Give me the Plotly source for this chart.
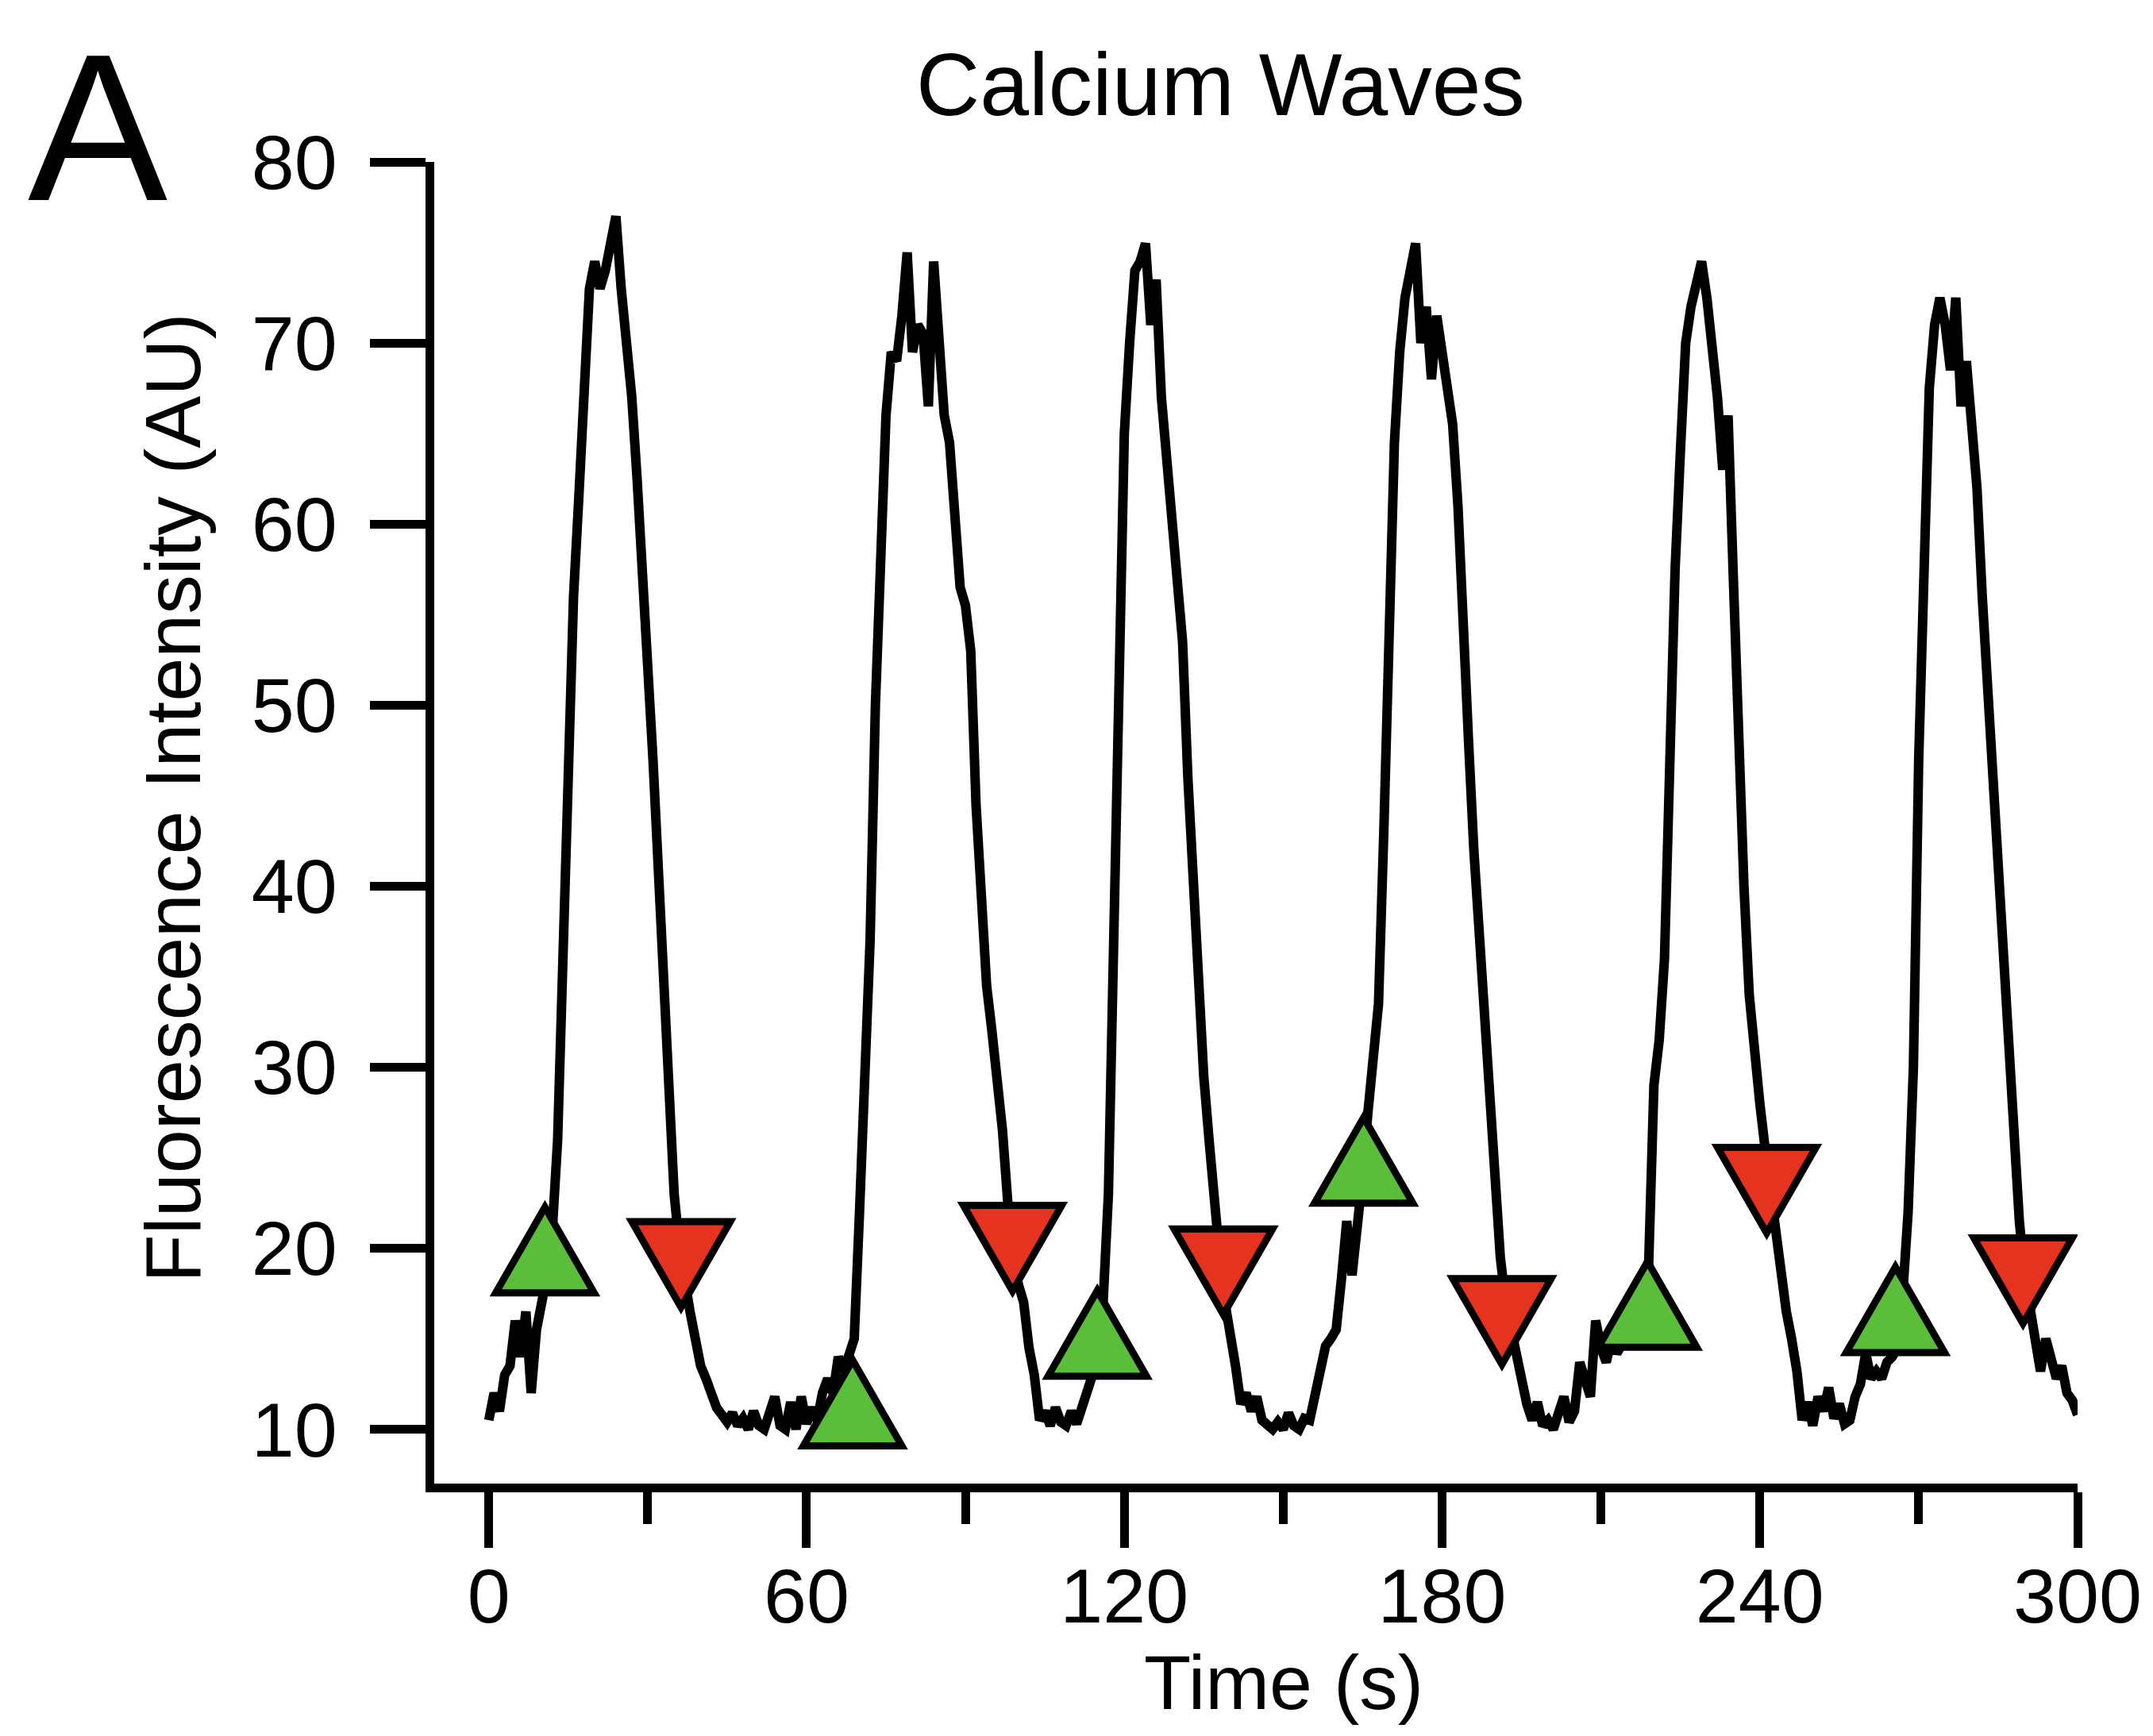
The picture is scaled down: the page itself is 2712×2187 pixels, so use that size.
import plotly.graph_objects as go

# ---------------- data ----------------
time_s = list(range(301))  # sampling times, 1 s apart

fluorescence = [
    10.5, 12.0, 11.0, 13.0, 13.5, 16.0, 14.0, 16.5, 12.0, 15.5,   # 0-9
    17.0, 18.5, 21.0, 26.0, 36.0, 47.5, 56.0, 61.5, 67.0, 73.0,   # 10-19
    74.5, 73.0, 74.0, 75.5, 77.0, 73.0, 70.5, 67.0, 62.5, 58.0,   # 20-29
    53.0, 47.0, 41.0, 35.0, 28.0, 23.0, 20.0, 18.0, 16.5, 15.0,   # 30-39
    13.5, 12.8, 11.8, 11.2, 10.8, 10.4, 10.9, 10.2, 10.6, 10.0,   # 40-49
    11.0, 10.2, 10.0, 10.8, 11.8, 10.2, 10.0, 11.5, 10.0, 11.8,   # 50-59
    10.3, 11.2, 10.5, 12.0, 12.8, 12.0, 14.0, 13.2, 14.2, 15.0,   # 60-69
    22.0, 29.0, 37.0, 50.0, 57.5, 66.0, 69.5, 69.0, 71.5, 75.0,   # 70-79
    69.5, 71.0, 70.5, 66.5, 74.5, 71.0, 66.0, 64.5, 61.0, 56.5,   # 80-89
    55.5, 53.0, 44.5, 39.0, 34.5, 32.0, 29.5, 26.5, 22.5, 19.5,   # 90-99
    18.0, 17.0, 14.5, 13.0, 10.5, 11.0, 10.2, 11.2, 10.4, 10.2,   # 100-109
    11.0, 10.3, 11.2, 12.3, 13.0, 13.8, 17.0, 23.0, 36.0, 54.0,   # 110-119
    65.0, 70.0, 74.0, 74.5, 75.5, 71.0, 73.5, 67.0, 63.5, 60.0,   # 120-129
    56.0, 53.5, 46.0, 40.0, 34.0, 29.5, 26.0, 22.0, 19.5, 17.0,   # 130-139
    15.5, 13.5, 11.4, 12.0, 11.0, 11.8, 10.5, 10.2, 10.0, 10.4,   # 140-149
    10.0, 10.9, 10.2, 10.0, 10.6, 10.5, 11.8, 13.5, 14.6, 15.0,   # 150-159
    15.5, 18.3, 21.5, 18.5, 21.0, 24.0, 27.5, 30.0, 33.5, 43.0,   # 160-169
    56.0, 64.5, 69.5, 72.5, 74.0, 75.5, 70.0, 72.0, 68.0, 71.5,   # 170-179
    69.5, 67.0, 65.5, 61.0, 55.5, 48.0, 42.0, 37.5, 31.0, 27.0,   # 180-189
    23.5, 19.5, 17.0, 15.5, 14.5, 12.5, 11.4, 10.5, 11.5, 10.2,   # 190-199
    10.5, 10.0, 10.8, 11.8, 10.4, 11.0, 13.7, 12.5, 11.8, 16.0,   # 200-209
    14.5, 13.7, 15.0, 14.2, 14.8, 15.2, 14.6, 15.5, 15.8, 19.0,   # 210-219
    29.0, 31.5, 36.0, 48.0, 57.5, 64.0, 70.0, 72.0, 73.5, 74.5,   # 220-229
    72.5, 70.0, 67.0, 63.0, 66.0, 57.0, 46.5, 40.0, 34.0, 30.5,   # 230-239
    28.0, 25.5, 23.0, 21.5, 18.5, 16.5, 15.0, 13.2, 10.5, 11.5,   # 240-249
    10.2, 11.8, 11.0, 12.3, 10.6, 11.4, 10.3, 10.5, 11.8, 12.5,   # 250-259
    14.2, 12.8, 13.2, 12.8, 13.7, 14.0, 14.5, 17.5, 22.0, 30.0,   # 260-269
    47.0, 58.5, 67.5, 71.0, 72.5, 71.0, 68.5, 72.5, 66.5, 69.0,   # 270-279
    65.5, 62.0, 56.0, 51.0, 46.5, 40.0, 35.0, 30.5, 26.5, 21.5,   # 280-289
    18.5, 16.5, 14.5, 13.2, 15.0, 13.8, 12.8, 13.5, 12.0, 11.6,   # 290-299
    10.8,                                                         # 300
]

onset_time = [10.6, 68.7, 114.9, 165.2, 218.8, 265.6]
onset_value = [19.9, 11.45, 15.3, 24.85, 16.9, 16.6]

offset_time = [36.3, 98.9, 138.7, 191.3, 241.3, 289.7]
offset_value = [19.1, 20.0, 18.7, 15.95, 23.2, 18.2]

x_ticks = [0, 60, 120, 180, 240, 300]
x_minor_ticks = [30, 90, 150, 210, 270]
y_ticks = [10, 20, 30, 40, 50, 60, 70, 80]

# ---------------- style ----------------
FONT = "Liberation Sans, Arial, Helvetica, sans-serif"
GREEN = "#5BBE3A"
RED = "#E5331F"
AXW = 11

# equilateral triangles, pixel geometry relative to the anchor point
HALF_W = 62
HALF_H = 54
UP_PATH = f"M {-HALF_W},{-HALF_H} L {HALF_W},{-HALF_H} L 0,{HALF_H} Z"
DOWN_PATH = f"M {-HALF_W},{HALF_H} L {HALF_W},{HALF_H} L 0,{-HALF_H} Z"

fig = go.Figure()
fig.add_trace(go.Scatter(
    x=time_s, y=fluorescence, mode="lines",
    line=dict(color="black", width=12),
    showlegend=False, hoverinfo="skip",
))

shapes = []
for t, v in zip(onset_time, onset_value):
    shapes.append(dict(type="path", xref="x", yref="y",
                       xsizemode="pixel", ysizemode="pixel",
                       xanchor=t, yanchor=v, path=UP_PATH,
                       fillcolor=GREEN, line=dict(color="black", width=9),
                       layer="above"))
for t, v in zip(offset_time, offset_value):
    shapes.append(dict(type="path", xref="x", yref="y",
                       xsizemode="pixel", ysizemode="pixel",
                       xanchor=t, yanchor=v, path=DOWN_PATH,
                       fillcolor=RED, line=dict(color="black", width=9),
                       layer="above"))

annotations = [
    dict(text="Calcium Waves", xref="paper", yref="paper", x=0.4787, y=1.058,
         xanchor="center", yanchor="middle", showarrow=False,
         font=dict(family=FONT, size=111, color="black")),
    dict(text="A", xref="paper", yref="paper", x=-0.2045, y=1.026,
         xanchor="center", yanchor="middle", showarrow=False,
         font=dict(family=FONT, size=264, color="black")),
    dict(text="Time (s)", xref="paper", yref="paper", x=0.517, y=-0.1506,
         xanchor="center", yanchor="middle", showarrow=False,
         font=dict(family=FONT, size=97, color="black")),
    dict(text="Fluorescence Intensity (AU)", xref="paper", yref="paper",
         x=-0.159, y=0.519, textangle=-90,
         xanchor="center", yanchor="middle", showarrow=False,
         font=dict(family=FONT, size=99, color="black")),
]

fig.update_layout(
    width=2712, height=2187,
    margin=dict(l=539, r=103, t=196, b=326),
    paper_bgcolor="white", plot_bgcolor="white",
    font=dict(family=FONT, size=97, color="black"),
    shapes=shapes, annotations=annotations,
    showlegend=False,
)

fig.update_xaxes(
    range=[-10.3, 300], tickvals=x_ticks, ticktext=[str(v) for v in x_ticks],
    showgrid=False, zeroline=False,
    showline=True, linecolor="black", linewidth=AXW,
    ticks="outside", ticklen=70, tickwidth=AXW, tickcolor="black",
    ticklabelstandoff=-22,
    tickfont=dict(family=FONT, size=97, color="black"),
    minor=dict(tickvals=x_minor_ticks, ticks="outside", ticklen=40,
               tickwidth=AXW, tickcolor="black", showgrid=False),
)
fig.update_yaxes(
    range=[7, 80], tickvals=y_ticks, ticktext=[str(v) for v in y_ticks],
    showgrid=False, zeroline=False,
    showline=True, linecolor="black", linewidth=AXW,
    ticks="outside", ticklen=70, tickwidth=AXW, tickcolor="black",
    ticklabelstandoff=22,
    tickfont=dict(family=FONT, size=97, color="black"),
)

fig.write_html("out.html")
